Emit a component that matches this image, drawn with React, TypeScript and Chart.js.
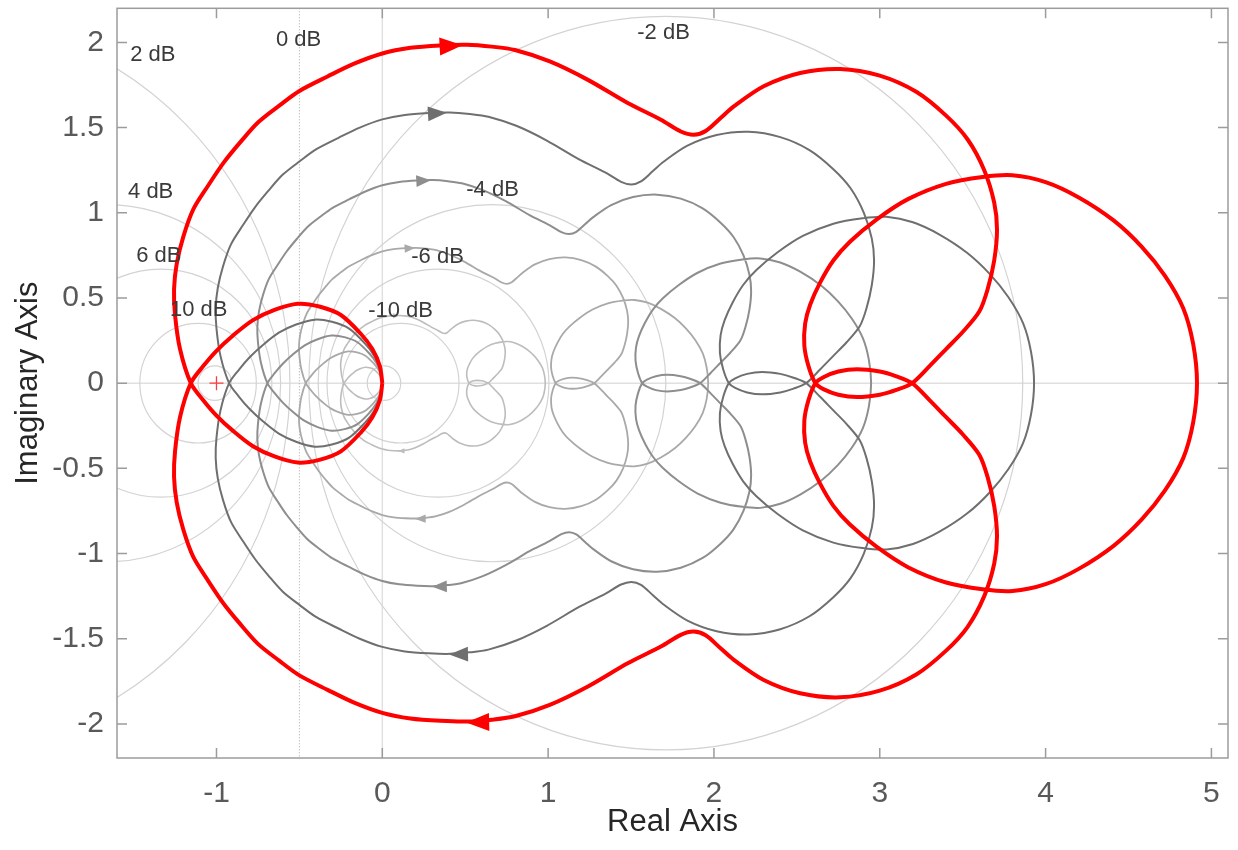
import React, { useEffect, useRef } from "react";
import { Chart, registerables } from "chart.js";

Chart.register(...registerables);

// ---------- data ----------
const xTicks = [-1, 0, 1, 2, 3, 4, 5];
const yTicks = [-2, -1.5, -1, -0.5, 0, 0.5, 1, 1.5, 2];

// loop gains of the plotted family (red = 1)
const gains = [1, 0.8, 0.6, 0.4, 0.2];

// Nyquist locus of the red (gain 1) curve, first half of the closed contour,
// read from the figure (from the origin to the right-most real-axis crossing)
const nyqRe = [
  0, -0.015, -0.06, -0.13, -0.25, -0.38, -0.51, -0.65, -0.78, -0.9, -1.0, -1.08, -1.155,
  -1.22, -1.25, -1.256, -1.24, -1.2, -1.14, -1.05, -0.96, -0.86, -0.75, -0.62, -0.5, -0.33,
  -0.17, 0.0, 0.17, 0.35, 0.51, 0.66, 0.8, 1.01, 1.24, 1.48, 1.68, 1.8, 1.878, 1.95, 2.04,
  2.12, 2.3, 2.52, 2.76, 3.0, 3.22, 3.4, 3.53, 3.63, 3.69, 3.707, 3.69, 3.65, 3.6, 3.5, 3.4,
  3.3, 3.195,
  3.1, 3.0, 2.863, 2.75, 2.66, 2.612,
  2.57, 2.545, 2.55, 2.58, 2.64, 2.72, 2.82, 2.98, 3.17, 3.4, 3.62, 3.8, 4.0, 4.2, 4.41,
  4.58, 4.72, 4.83, 4.89, 4.913,
];
const nyqIm = [
  0, -0.1, -0.2, -0.29, -0.4, -0.45, -0.466, -0.43, -0.37, -0.28, -0.19, -0.1, 0,
  0.2, 0.4, 0.55, 0.7, 0.86, 1.02, 1.16, 1.29, 1.41, 1.53, 1.63, 1.715, 1.8,
  1.875, 1.935, 1.968, 1.982, 1.986, 1.975, 1.955, 1.888, 1.78, 1.644, 1.546, 1.477, 1.458, 1.48, 1.556,
  1.624, 1.742, 1.82, 1.844, 1.805, 1.71, 1.57, 1.43, 1.25, 1.06, 0.9, 0.72, 0.55, 0.42, 0.3, 0.2,
  0.1, 0,
  -0.04, -0.068, -0.082, -0.068, -0.035, 0,
  0.1, 0.22, 0.35, 0.46, 0.59, 0.72, 0.83, 0.96, 1.08, 1.17, 1.21, 1.22, 1.18, 1.09, 0.955,
  0.8, 0.63, 0.44, 0.23, 0,
];

// direction arrows on the red curve (the other curves carry them at the same frequency)
const arrowRe = [0.415, 0.575];
const arrowIm = [1.98, -1.99];

// critical point
const criticalRe = [-1];
const criticalIm = [0];

// constant closed-loop magnitude (M) circles of the grid, in dB
const gridDb = [20, 10, 6, 4, 2, 0, -2, -4, -6, -10, -20];
const gridLabels = ["2 dB", "0 dB", "-2 dB", "4 dB", "-4 dB", "6 dB", "-6 dB", "10 dB", "-10 dB"];

// ---------- layout / style (not data) ----------
const gridLabelPos: [number, number][] = [
  [-1.384, 1.928], [-0.505, 2.016], [1.696, 2.057], [-1.397, 1.123], [0.665, 1.135],
  [-1.348, 0.747], [0.333, 0.742], [-1.107, 0.43], [0.11, 0.425],
];
const curveColors = ["#ff0000", "#6f6f6f", "#8e8e8e", "#a9a9a9", "#bdbdbd"];
const curveWidths = [4, 2, 2, 1.8, 1.6];
const FONT = '"Liberation Sans", Arial, Helvetica, sans-serif';

function buildCurve(g: number) {
  const pts = nyqRe.map((re, i) => ({ x: g * re, y: g * nyqIm[i] }));
  const mirror: { x: number; y: number }[] = [];
  for (let i = nyqRe.length - 2; i >= 0; i--) mirror.push({ x: g * nyqRe[i], y: -g * nyqIm[i] });
  return pts.concat(mirror);
}

const decorPlugin = {
  id: "nyqDecor",
  beforeDatasetsDraw(chart: any) {
    const { ctx, chartArea: a, scales } = chart;
    const xs = scales.x, ys = scales.y;
    ctx.save();
    ctx.beginPath();
    ctx.rect(a.left, a.top, a.right - a.left, a.bottom - a.top);
    ctx.clip();
    // real / imaginary axes
    ctx.strokeStyle = "#e0e0e0";
    ctx.lineWidth = 1.5;
    ctx.beginPath();
    ctx.moveTo(a.left, ys.getPixelForValue(0));
    ctx.lineTo(a.right, ys.getPixelForValue(0));
    ctx.moveTo(xs.getPixelForValue(0), a.top);
    ctx.lineTo(xs.getPixelForValue(0), a.bottom);
    ctx.stroke();
    // M circles
    const ux = xs.getPixelForValue(1) - xs.getPixelForValue(0);
    const uy = ys.getPixelForValue(0) - ys.getPixelForValue(1);
    gridDb.forEach((db) => {
      ctx.beginPath();
      if (db === 0) {
        ctx.strokeStyle = "#a8a8a8";
        ctx.lineWidth = 1;
        ctx.setLineDash([1, 2]);
        const px = xs.getPixelForValue(-0.5);
        ctx.moveTo(px, a.top);
        ctx.lineTo(px, a.bottom);
      } else {
        ctx.strokeStyle = "#d3d3d3";
        ctx.lineWidth = 1.2;
        ctx.setLineDash([]);
        const M = Math.pow(10, db / 20);
        const c = -(M * M) / (M * M - 1);
        const r = Math.abs(M / (M * M - 1));
        ctx.ellipse(xs.getPixelForValue(c), ys.getPixelForValue(0), r * ux, r * uy, 0, 0, Math.PI * 2);
      }
      ctx.stroke();
    });
    ctx.restore();
  },
  afterDatasetsDraw(chart: any) {
    const { ctx, chartArea: a, scales } = chart;
    const xs = scales.x, ys = scales.y;
    // arrows
    ctx.save();
    gains.forEach((g, k) => {
      const meta = chart.getDatasetMeta(k + 1);
      const pts = meta.data.map((p: any) => ({ x: p.x, y: p.y }));
      arrowRe.forEach((re, j) => {
        const ax = xs.getPixelForValue(g * re);
        const ay = ys.getPixelForValue(g * arrowIm[j]);
        let best = 1, bd = Infinity;
        for (let i = 1; i < pts.length - 1; i++) {
          const d = (pts[i].x - ax) ** 2 + (pts[i].y - ay) ** 2;
          if (d < bd) { bd = d; best = i; }
        }
        let dx = pts[best + 1].x - pts[best - 1].x;
        let dy = pts[best + 1].y - pts[best - 1].y;
        const n = Math.hypot(dx, dy) || 1;
        dx /= n; dy /= n;
        const len = 21 * g + 2;
        const hw = 8 * g + 1;
        ctx.fillStyle = curveColors[k];
        ctx.beginPath();
        ctx.moveTo(ax + dx * len / 2, ay + dy * len / 2);
        ctx.lineTo(ax - dx * len / 2 - dy * hw, ay - dy * len / 2 + dx * hw);
        ctx.lineTo(ax - dx * len / 2 + dy * hw, ay - dy * len / 2 - dx * hw);
        ctx.closePath();
        ctx.fill();
      });
    });
    // dB labels
    ctx.fillStyle = "#3a3a3a";
    ctx.font = `22px ${FONT}`;
    ctx.textAlign = "center";
    ctx.textBaseline = "middle";
    gridLabels.forEach((t, i) => {
      ctx.fillText(t, xs.getPixelForValue(gridLabelPos[i][0]), ys.getPixelForValue(gridLabelPos[i][1]));
    });
    // box and inward ticks
    ctx.strokeStyle = "#9c9c9c";
    ctx.lineWidth = 1.5;
    ctx.strokeRect(a.left, a.top, a.right - a.left, a.bottom - a.top);
    ctx.beginPath();
    xTicks.forEach((v) => {
      const px = xs.getPixelForValue(v);
      ctx.moveTo(px, a.bottom); ctx.lineTo(px, a.bottom - 10);
      ctx.moveTo(px, a.top); ctx.lineTo(px, a.top + 10);
    });
    yTicks.forEach((v) => {
      const py = ys.getPixelForValue(v);
      ctx.moveTo(a.left, py); ctx.lineTo(a.left + 10, py);
      ctx.moveTo(a.right, py); ctx.lineTo(a.right - 10, py);
    });
    ctx.stroke();
    ctx.restore();
  },
};

export default function App() {
  const ref = useRef<HTMLCanvasElement>(null);
  useEffect(() => {
    document.body.style.margin = "0";
    const canvas = ref.current;
    if (!canvas) return;
    const datasets: any[] = [
      {
        label: "critical point",
        data: criticalRe.map((x, i) => ({ x, y: criticalIm[i] })),
        showLine: false,
        pointStyle: "cross",
        pointRadius: 7,
        pointBorderColor: "#ff3b3b",
        pointBorderWidth: 1.3,
        borderColor: "#ff3b3b",
      },
    ];
    gains.forEach((g, k) => {
      datasets.push({
        label: `K = ${g}`,
        data: buildCurve(g),
        showLine: true,
        borderColor: curveColors[k],
        borderWidth: curveWidths[k],
        pointRadius: 0,
        pointHoverRadius: 0,
        tension: 0.3,
        fill: false,
        borderJoinStyle: "round",
      });
    });
    const chart = new Chart(canvas, {
      type: "scatter",
      data: { datasets },
      plugins: [decorPlugin],
      options: {
        animation: false,
        responsive: false,
        devicePixelRatio: 1,
        layout: { padding: { top: 8, right: 10, bottom: 0, left: 0 } },
        plugins: { legend: { display: false }, tooltip: { enabled: false } },
        events: [],
        scales: {
          x: {
            type: "linear",
            min: -1.6,
            max: 5.1,
            afterBuildTicks: (s: any) => { s.ticks = xTicks.map((v) => ({ value: v })); },
            afterFit: (s: any) => { s.height = 92; s.paddingLeft = 0; s.paddingRight = 0; },
            grid: { display: false, drawTicks: false },
            border: { display: false },
            ticks: {
              padding: 18,
              color: "#595959",
              font: { family: FONT, size: 30 },
              callback: (v: any) => String(v),
            },
            title: {
              display: true,
              text: "Real Axis",
              color: "#262626",
              font: { family: FONT, size: 31 },
              padding: { top: 0, bottom: 9 },
            },
          },
          y: {
            type: "linear",
            min: -2.2,
            max: 2.2,
            afterBuildTicks: (s: any) => { s.ticks = yTicks.map((v) => ({ value: v })); },
            afterFit: (s: any) => { s.width = 117; s.paddingTop = 0; s.paddingBottom = 0; },
            grid: { display: false, drawTicks: false },
            border: { display: false },
            ticks: {
              padding: 13,
              color: "#595959",
              font: { family: FONT, size: 30 },
              callback: (v: any) => String(v),
            },
            title: {
              display: true,
              text: "Imaginary Axis",
              color: "#262626",
              font: { family: FONT, size: 31 },
              padding: { top: 10, bottom: 0 },
            },
          },
        },
      } as any,
    });
    return () => chart.destroy();
  }, []);
  return (
    <div style={{ width: 1238, height: 850, background: "#fff" }}>
      <canvas ref={ref} width={1238} height={850} style={{ display: "block" }} />
    </div>
  );
}
